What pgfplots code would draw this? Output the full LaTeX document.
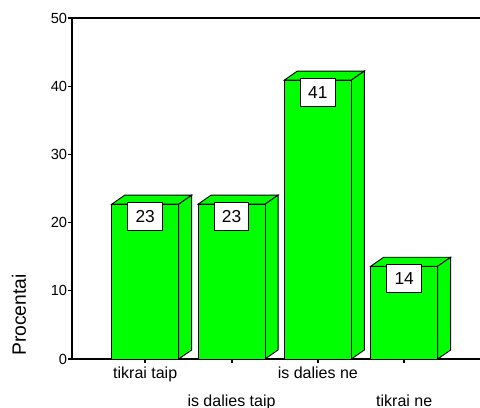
\documentclass[border=0pt]{standalone}
\usepackage{pgfplots}
\pgfplotsset{compat=1.18}
\usepackage{fontspec}
\setmainfont{Liberation Sans}
\begin{document}
\begin{tikzpicture}
\path[use as bounding box] (0,0) rectangle (360pt,306pt);
\begin{axis}[
  at={(54pt,36.75pt)}, anchor=south west,
  scale only axis, width=306pt, height=255.75pt,
  xmin=-0.848, xmax=3.878, ymin=0, ymax=50,
  axis x line=bottom, axis y line=left,
  axis line style={-, line width=0.9pt, black},
  xtick align=outside, ytick align=outside, major tick length=3pt,
  tick style={black, line width=1pt},
  x tick style={black, line width=1.5pt},
  ytick={0,10,20,30,40,50},
  /pgf/number format/assume math mode=true,
  tick label style={font=\fontsize{11}{13}\selectfont},
  yticklabel style={inner sep=0.5pt},
  xtick={0,2}, xticklabels={tikrai taip, is dalies ne},
  xticklabel style={font=\fontsize{12}{14}\selectfont, inner sep=1pt, yshift=-2pt},
  extra x ticks={1,3}, extra x tick labels={is dalies taip, tikrai ne},
  extra x tick style={xtick align=outside, major tick length=3pt, tick style={black, line width=1.5pt}, xticklabel style={yshift=-20.5pt}},
  ylabel={Procentai},
  ylabel style={at={(axis description cs:-0.13,0.129)}, anchor=center, font=\fontsize{14.5}{17}\selectfont},
  extra description/.code={\draw[line width=0.9pt, black] (axis description cs:0,1) -- (axis description cs:1,1);},
  clip=false,
]
% 3D top faces
\addplot[fill=green, draw=black, line width=0.7pt] coordinates {(-0.388,22.7)(-0.2374,24.02)(0.5386,24.02)(0.388,22.7)} -- cycle;
\addplot[fill=green, draw=black, line width=0.7pt] coordinates {(0.612,22.7)(0.7626,24.02)(1.5386,24.02)(1.388,22.7)} -- cycle;
\addplot[fill=green, draw=black, line width=0.7pt] coordinates {(1.612,40.9)(1.7626,42.22)(2.5386,42.22)(2.388,40.9)} -- cycle;
\addplot[fill=green, draw=black, line width=0.7pt] coordinates {(2.612,13.6)(2.7626,14.92)(3.5386,14.92)(3.388,13.6)} -- cycle;
% 3D side faces
\addplot[fill=green, draw=black, line width=0.7pt] coordinates {(0.388,0)(0.388,22.7)(0.5386,24.02)(0.5386,1.32)} -- cycle;
\addplot[fill=green, draw=black, line width=0.7pt] coordinates {(1.388,0)(1.388,22.7)(1.5386,24.02)(1.5386,1.32)} -- cycle;
\addplot[fill=green, draw=black, line width=0.7pt] coordinates {(2.388,0)(2.388,40.9)(2.5386,42.22)(2.5386,1.32)} -- cycle;
\addplot[fill=green, draw=black, line width=0.7pt] coordinates {(3.388,0)(3.388,13.6)(3.5386,14.92)(3.5386,1.32)} -- cycle;
% front faces with labels
\addplot[ybar, bar width=0.776, fill=green, draw=black, line width=0.7pt,
  nodes near coords={\pgfmathprintnumber[fixed, precision=0]{\pgfplotspointmeta}},
  every node near coord/.style={anchor=north, yshift=1.5pt, fill=white, draw=black, line width=0.6pt,
    minimum width=26pt, minimum height=21pt, inner sep=0pt, text=black,
    font=\fontsize{13}{15}\selectfont, /pgf/number format/assume math mode=true}]
  coordinates {(0,22.7)(1,22.7)(2,40.9)(3,13.6)};
\end{axis}
\end{tikzpicture}
\end{document}
